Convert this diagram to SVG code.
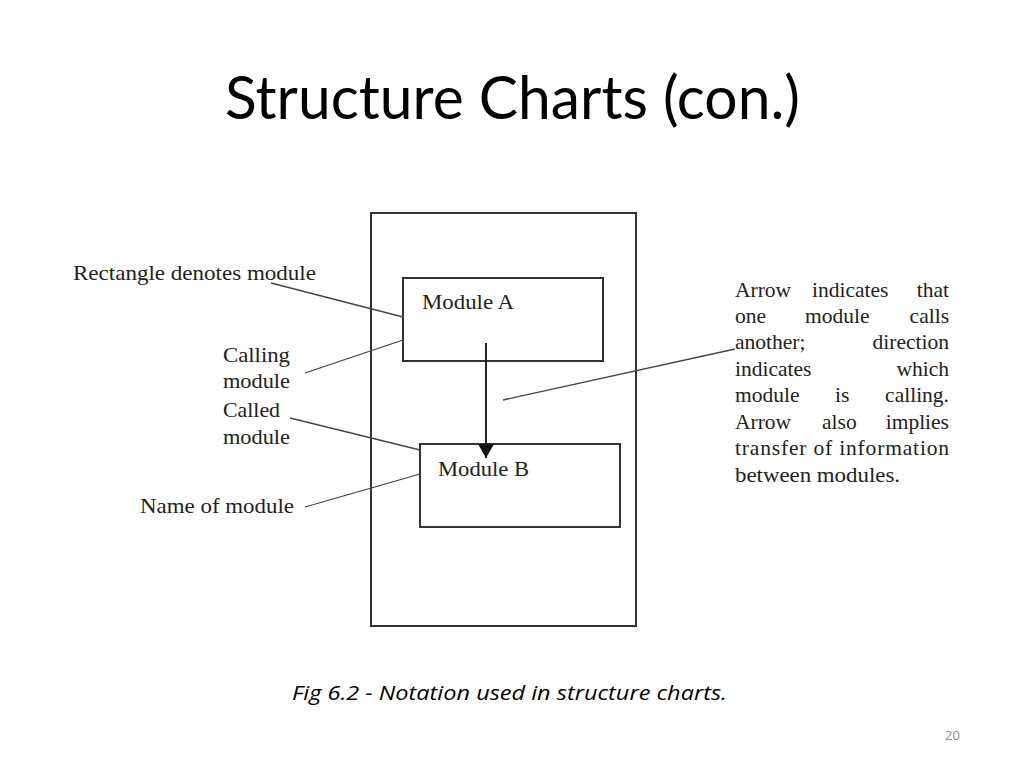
<svg xmlns="http://www.w3.org/2000/svg" width="1024" height="768" viewBox="0 0 1024 768">
<style>
.fig{font-family:"Liberation Serif","Times New Roman",serif;font-size:21px;fill:#222}
.para{font-size:21.5px}
.box{fill:none;stroke:#333;stroke-width:2}
.lead{stroke:#444;stroke-width:1.3;fill:none}
.title{font-family:Lato,"Open Sans","Liberation Sans",sans-serif;font-size:60px;fill:#000}
.cap{font-family:"Open Sans","Liberation Sans",sans-serif;font-style:italic;font-size:20px;fill:#000}
.pg{font-family:"Open Sans","Liberation Sans",sans-serif;font-size:13px;fill:#8a8a8a}
</style>
<defs>
<marker id="ah" markerWidth="14" markerHeight="16" refX="14" refY="8" orient="auto" markerUnits="userSpaceOnUse">
<path d="M0,0 L14,8 L0,16 Z" fill="#111"/>
</marker>
</defs>
<rect width="1024" height="768" fill="#fff"/>
<text class="title" x="225" y="119" textLength="575" lengthAdjust="spacingAndGlyphs">Structure Charts (con.)</text>

<g id="frame"><rect class="box" x="371" y="213" width="265" height="413"/></g>
<g id="moduleA"><rect class="box" x="403" y="278" width="200" height="83"/>
<text class="fig" x="422" y="309" textLength="92" lengthAdjust="spacingAndGlyphs">Module A</text></g>
<g id="moduleB"><rect class="box" x="420" y="444" width="200" height="83"/>
<text class="fig" x="438" y="476" textLength="91" lengthAdjust="spacingAndGlyphs">Module B</text></g>

<g id="connectors">
<line x1="486" y1="343" x2="486" y2="458" stroke="#111" stroke-width="1.8" marker-end="url(#ah)"/>
<line class="lead" x1="271" y1="283" x2="403" y2="317"/>
<line class="lead" x1="305" y1="373" x2="403" y2="340"/>
<line class="lead" x1="290" y1="418" x2="420" y2="450"/>
<line class="lead" x1="305" y1="507" x2="420" y2="474"/>
<line class="lead" x1="503" y1="400" x2="735" y2="349"/>
</g>

<g id="label-rectangle"><text class="fig" x="73" y="280" textLength="243" lengthAdjust="spacingAndGlyphs">Rectangle denotes module</text></g>
<g id="label-calling"><text class="fig" x="223" y="362" textLength="67" lengthAdjust="spacingAndGlyphs">Calling</text>
<text class="fig" x="223" y="388" textLength="67" lengthAdjust="spacingAndGlyphs">module</text></g>
<g id="label-called"><text class="fig" x="223" y="417" textLength="57" lengthAdjust="spacingAndGlyphs">Called</text>
<text class="fig" x="223" y="444" textLength="67" lengthAdjust="spacingAndGlyphs">module</text></g>
<g id="label-name"><text class="fig" x="140" y="513" textLength="154" lengthAdjust="spacingAndGlyphs">Name of module</text></g>

<g id="label-arrow" class="fig para">
<text x="735" y="297">Arrow</text><text x="812" y="297">indicates</text><text x="949" y="297" text-anchor="end">that</text>
<text x="735" y="323">one</text><text x="805" y="323">module</text><text x="949" y="323" text-anchor="end">calls</text>
<text x="735" y="349">another;</text><text x="949" y="349" text-anchor="end">direction</text>
<text x="735" y="376">indicates</text><text x="949" y="376" text-anchor="end">which</text>
<text x="735" y="402">module</text><text x="835" y="402">is</text><text x="949" y="402" text-anchor="end">calling.</text>
<text x="735" y="429">Arrow</text><text x="822" y="429">also</text><text x="949" y="429" text-anchor="end">implies</text>
<text x="735" y="455" textLength="214" lengthAdjust="spacing">transfer of information</text>
<text x="735" y="482" textLength="165" lengthAdjust="spacingAndGlyphs">between modules.</text>
</g>

<text class="cap" x="292" y="700" textLength="435" lengthAdjust="spacingAndGlyphs">Fig 6.2 - Notation used in structure charts.</text>
<text class="pg" x="945" y="740">20</text>
</svg>
